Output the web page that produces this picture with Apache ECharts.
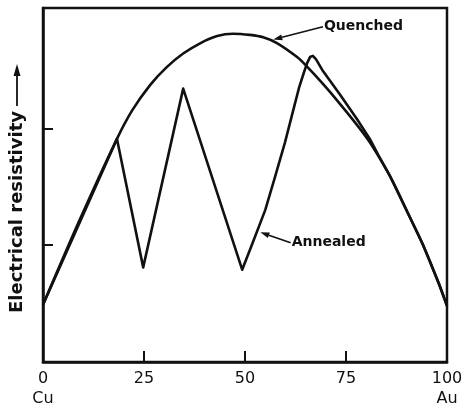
<!DOCTYPE html>
<html>
<head>
<meta charset="utf-8">
<script src="https://cdn.jsdelivr.net/npm/echarts@6/dist/echarts.min.js"></script>
<style>html,body{margin:0;padding:0;background:#fff}#c{width:461px;height:413px}</style>
</head>
<body>
<div id="c"></div>
<script>
// Atomic percent Au ticks
var xTicks = [0, 25, 50, 75, 100];
var xSubLabels = {0: 'Cu', 100: 'Au'};
var yTicks = [1, 2];
// Quenched curve [at% Au, resistivity (arb.)]
var quenched = [[0,0.49],[9,1.21],[18.3,1.91],[22,2.15],[26.5,2.37],[30.5,2.52],[34.7,2.64],[39,2.73],[43.1,2.79],[47,2.81],[51.2,2.80],[54.5,2.78],[57.9,2.73],[62.9,2.61],[65.3,2.53],[69.3,2.38],[73.5,2.21],[77.7,2.03],[80.9,1.88],[85.9,1.59],[90.1,1.29],[94.1,1.00],[98,0.67],[100,0.48]];
// Annealed curve
var annealed = [[0,0.49],[18.3,1.91],[24.8,0.81],[34.7,2.34],[49.3,0.79],[52,1.03],[55,1.30],[57.4,1.58],[59.9,1.88],[61.9,2.15],[63.4,2.35],[64.6,2.48],[65.4,2.56],[66.1,2.61],[66.8,2.62],[67.6,2.59],[69.3,2.49],[73.5,2.29],[77.7,2.08],[80.9,1.91],[83,1.77],[85.9,1.59],[90.1,1.29],[94.1,1.00],[98,0.67],[100,0.48]];

var FONT = 'DejaVu Sans';
var chart = echarts.init(document.getElementById('c'), null, {renderer: 'canvas'});
var option = {
  animation: false,
  backgroundColor: '#fff',
  grid: {left: 43, right: 14, top: 8, bottom: 51, outerBoundsMode: 'none', containLabel: false,
         show: true, borderColor: '#111', borderWidth: 2.5, backgroundColor: 'transparent'},
  xAxis: {
    type: 'value', min: 0, max: 100, interval: 25,
    name: 'Atomic percent  Au', nameLocation: 'middle', nameGap: 31,
    nameTextStyle: {fontFamily: FONT, fontSize: 14, fontWeight: 'bold', color: '#111'},
    axisLine: {show: true, lineStyle: {color: '#111', width: 2.5}},
    axisTick: {show: true, inside: true, length: 11, customValues: [25, 50, 75], lineStyle: {color: '#111', width: 2}},
    axisLabel: {
      customValues: xTicks, margin: 7, fontFamily: FONT, fontSize: 16, color: '#111', lineHeight: 20,
      formatter: function (v) { return xSubLabels[v] ? v + '\n' + xSubLabels[v] : String(v); }
    },
    splitLine: {show: false}
  },
  yAxis: {
    type: 'value', min: 0, max: 3.03,
    axisLine: {show: true, lineStyle: {color: '#111', width: 2.5}},
    axisTick: {show: true, inside: true, length: 10, customValues: yTicks, lineStyle: {color: '#111', width: 2}},
    axisLabel: {show: false},
    splitLine: {show: false}
  },
  series: [
    {name: 'Quenched', type: 'line', data: quenched, smooth: 0.3, showSymbol: false, lineStyle: {color: '#111', width: 2.6}},
    {name: 'Annealed', type: 'line', data: annealed, smooth: false, showSymbol: false, lineStyle: {color: '#111', width: 2.6, join: 'round'}}
  ]
};
chart.setOption(option);

function arrowAnno(txt, tPos, target) {
  var t = chart.convertToPixel({gridIndex: 0}, tPos);
  var p = chart.convertToPixel({gridIndex: 0}, target);
  var dx = t[0] - p[0], dy = t[1] - p[1];
  var L = Math.sqrt(dx*dx + dy*dy), ux = dx / L, uy = dy / L;
  var hl = 9, hw = 3;
  var b = [p[0] + ux*hl, p[1] + uy*hl];
  return [
    {type: 'line', shape: {x1: t[0], y1: t[1], x2: b[0], y2: b[1]}, style: {stroke: '#111', lineWidth: 1.6}},
    {type: 'polygon', shape: {points: [p, [b[0] - uy*hw, b[1] + ux*hw], [b[0] + uy*hw, b[1] - ux*hw]]}, style: {fill: '#111'}},
    {type: 'text', x: t[0] + 1, y: t[1], style: {text: txt, fontFamily: FONT, fontSize: 14, fontWeight: 'bold', fill: '#111', verticalAlign: 'middle', align: 'left'}}
  ];
}
var yLab = [
  {type: 'text', x: 17, y: 212, rotation: Math.PI / 2,
   style: {text: 'Electrical resistivity', fontFamily: FONT, fontSize: 18, fontWeight: 'bold', fill: '#111', align: 'center', verticalAlign: 'middle'}},
  {type: 'line', shape: {x1: 17, y1: 106, x2: 17, y2: 74}, style: {stroke: '#111', lineWidth: 1.8}},
  {type: 'polygon', shape: {points: [[17, 64], [13.5, 76], [20.5, 76]]}, style: {fill: '#111'}}
];
chart.setOption({graphic: arrowAnno('Quenched', [69.3, 2.87], [57, 2.76]).concat(arrowAnno('Annealed', [61.3, 1.02], [53.8, 1.11])).concat(yLab)});
</script>
</body>
</html>
